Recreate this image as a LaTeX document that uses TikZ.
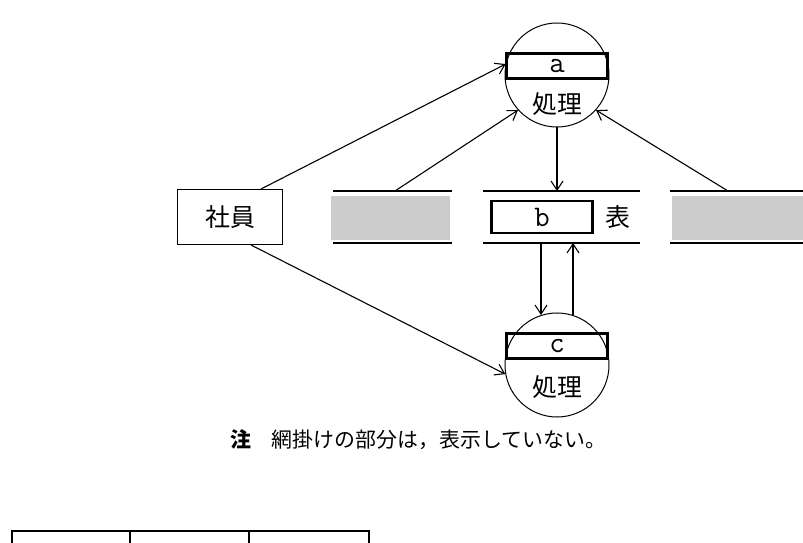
\documentclass[tikz,border=0pt]{standalone}
\usepackage{fontspec}
\newfontfamily\cjk{Noto Sans CJK JP}
\usetikzlibrary{positioning, arrows.meta}
\tikzset{
  jp/.style={font=\cjk\fontsize{25}{28}\selectfont},
  lbl/.style={font=\ttfamily\fontsize{30}{30}\selectfont},
  proc/.style={draw, circle, minimum size=104bp, line width=1bp},
  item/.style={draw, line width=2.6bp, minimum width=101bp, minimum height=25bp, inner sep=0pt},
  arr/.style={-{Straight Barb[length=9bp, width=12bp]}, line width=1.1bp},
  rule/.style={line width=1.4bp}
}
\begin{document}
\begin{tikzpicture}[x=1bp, y=-1bp]
                \useasboundingbox (0,0) rectangle (803,543);

                % Processes
                \node at (557,75) (pa) [proc] {};
                \node at (557,66) (boxa) [item, lbl] {a};
                \node at (557,104) (txta) [jp] {処理};
                \node at (557,365) (pc) [proc] {};
                \node at (557,346) (boxc) [item, lbl] {c};
                \node at (557,387) (txtc) [jp] {処理};

                % External entity
                \node at (230,217) (emp) [draw, line width=1bp, minimum width=105bp, minimum height=55bp, jp] {社員};

                % Data stores
                \fill[gray!40] (331,196) rectangle (450,240);
                \fill[gray!40] (672,196) rectangle (803,240);
                \draw[rule] (333,191) -- (452,191) (333,243) -- (452,243);
                \draw[rule] (483,191) -- (640,191) (483,243) -- (640,243);
                \draw[rule] (670,191) -- (803,191) (670,243) -- (803,243);
                \node at (542,217) (boxb) [item, minimum height=32bp, lbl] {b};
                \node at (618,217) (tbl) [jp] {表};
                \coordinate (sl) at (395,191);
                \coordinate (sr) at (728,191);
                \coordinate (mt) at (557,191);
                \coordinate (mb1) at (541,243);
                \coordinate (mb2) at (573,243);

                % Arrows
                \draw[arr] (emp.north east) ++(-22,0) -- (pa.168);
                \draw[arr] (emp.south east) ++(-32,0) -- (pc.190);
                \draw[arr] (sl) -- (pa.222);
                \draw[arr] (sr) -- (pa.-42);
                \draw[arr] (pa) ++(0,52) -- (mt);
                \draw[arr] (mb1) -- (541,315);
                \draw[arr] (573,315) -- (mb2);

                % Note
                \node at (418,440) (note) [font=\cjk\fontsize{21}{24}\selectfont] {\textbf{注}\quad 網掛けの部分は，表示していない。};

                % Table
                \draw[line width=1.4bp] (12,543) -- (12,531) -- (369,531) -- (369,543) (130,531) -- (130,543) (249,531) -- (249,543);
\end{tikzpicture}
\end{document}
